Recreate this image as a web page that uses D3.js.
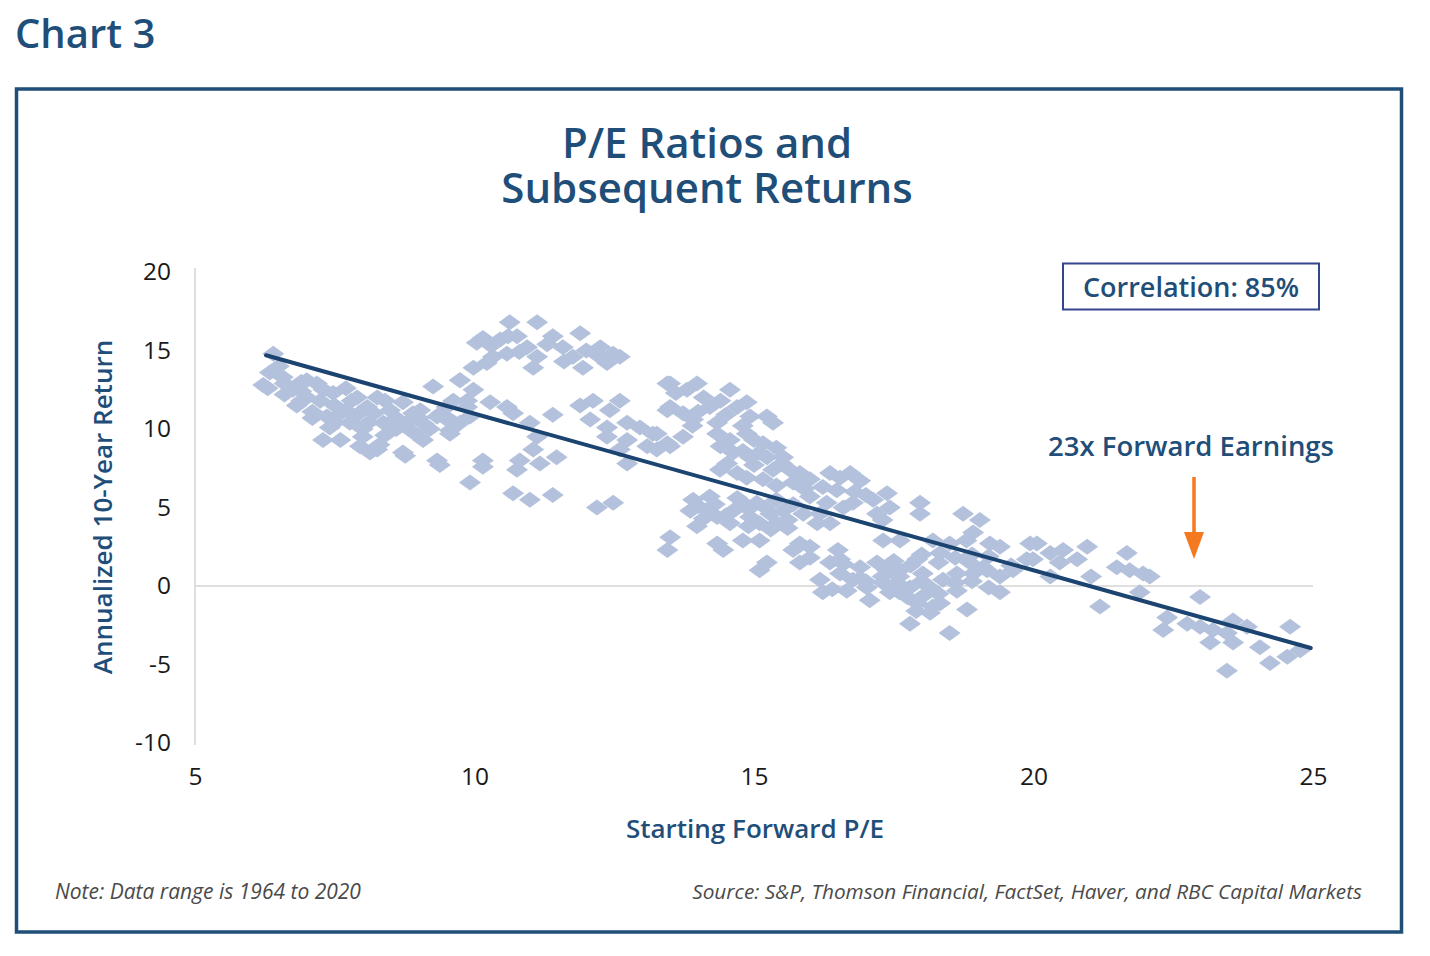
<!DOCTYPE html>
<html><head><meta charset="utf-8">
<script src="https://cdn.jsdelivr.net/npm/d3@7/dist/d3.min.js"></script>
<style>
html,body{margin:0;padding:0;background:#fff;}
svg{display:block;font-family:"Open Sans",sans-serif;}
</style></head>
<body>
<svg id="chart" width="1430" height="956"></svg>
<script>
// ---- data ----
const startingPE = [
6.40,6.34,6.22,6.57,6.75,6.82,7.18,7.24,7.47,7.36,7.60,7.41,7.29,7.60,7.95,8.26,7.77,8.08,8.26,8.49,8.37,8.72,8.79,9.03,9.08,8.72,9.26,9.33,9.56,9.74,9.87,9.92,9.33,
6.50,6.90,7.00,6.60,7.80,7.90,8.00,8.60,9.10,9.50,7.10,7.70,8.00,6.90,8.13,8.76,9.38,
6.30,6.60,6.90,7.00,7.30,7.50,7.70,7.90,8.20,8.40,8.60,8.90,8.90,9.20,9.40,9.60,8.40,7.50,7.10,8.10,9.00,8.30,
10.63,11.12,10.15,10.04,10.46,10.76,10.58,10.33,10.94,11.12,11.05,11.40,11.89,11.58,11.76,11.94,12.25,12.48,12.37,9.98,10.22,
10.30,10.80,11.30,11.60,12.00,12.20,10.60,12.60,
9.74,9.98,9.62,9.87,10.28,10.58,10.69,9.51,9.74,9.56,10.99,11.40,11.12,11.05,10.81,10.76,10.15,10.15,9.92,11.47,11.17,
11.89,12.12,12.60,12.42,12.07,12.37,12.73,12.96,13.19,12.37,12.73,13.09,13.45,13.45,13.45,12.73,12.60,
10.69,10.99,11.40,12.19,12.48,
13.50,13.98,13.80,14.57,13.50,13.73,14.21,13.91,14.70,14.87,14.93,15.23,15.34,14.34,14.34,13.26,13.73,13.50,13.26,14.57,14.87,15.16,14.63,14.52,14.93,15.23,15.52,15.64,15.34,15.16,14.87,14.39,15.82,16.00,16.36,16.54,16.23,16.48,16.30,16.00,
13.60,14.10,14.40,14.00,14.50,13.90,14.80,15.00,14.40,14.80,15.10,15.40,15.50,15.00,14.70,15.70,15.40,15.90,
13.91,13.86,14.21,14.16,14.34,14.63,14.80,15.05,14.93,15.29,15.52,15.41,15.10,14.57,13.98,15.88,16.13,
14.00,14.30,14.50,14.70,14.90,15.20,15.40,15.60,15.70,14.10,14.90,15.30,15.60,
13.50,13.45,14.34,14.45,14.80,15.10,15.23,15.10,15.70,16.00,15.82,16.36,16.54,
16.72,16.18,16.36,16.77,17.13,17.38,17.43,17.20,17.97,17.97,18.74,19.04,18.92,19.22,19.40,19.94,
16.80,16.60,17.00,17.30,16.90,
17.31,17.61,18.20,18.50,18.80,17.92,18.33,15.82,16.54,16.90,16.77,16.18,16.23,16.66,17.02,17.07,
17.38,17.61,17.31,17.56,17.79,17.43,17.74,18.02,18.15,18.38,18.63,18.63,18.92,19.10,19.40,19.40,
16.00,16.50,16.60,17.20,17.50,17.80,18.00,18.30,18.60,18.90,19.20,17.30,17.60,18.00,18.30,18.60,18.90,17.60,18.00,17.90,18.20,16.90,16.40,17.00,19.20,19.60,
17.92,18.15,17.79,18.33,18.81,18.50,19.88,19.63,
18.86,19.17,20.06,19.99,20.30,20.53,20.78,20.47,20.96,20.30,21.03,21.19,21.67,21.49,21.72,21.96,22.08,21.90,
22.98,22.39,22.32,22.75,22.98,23.21,23.57,23.82,23.16,23.57,23.46,24.05,24.59,24.23,24.54,24.77,23.46
];
const annualReturn = [
14.8,13.6,12.8,13.3,12.5,11.5,12.9,11.8,12.3,10.8,11.0,10.1,9.3,9.3,8.9,8.7,10.4,11.4,12.0,11.2,10.4,11.7,10.4,11.2,9.3,8.5,12.7,10.8,9.9,13.1,11.8,10.8,8.0,
14.0,13.0,12.0,12.2,11.8,10.9,10.0,10.0,10.3,11.4,11.1,12.6,9.5,12.4,8.5,8.3,7.7,
12.6,12.9,11.8,13.1,12.5,11.5,11.2,12.0,11.0,11.8,10.7,11.0,9.8,10.0,11.0,10.5,9.6,10.4,10.7,10.4,10.7,9.0,
16.8,16.8,15.8,15.5,15.7,15.9,14.8,14.6,15.2,14.6,13.9,15.9,16.1,15.2,14.6,13.9,15.2,14.8,14.2,13.9,14.2,
15.3,14.9,15.4,14.3,15.0,14.7,15.9,14.6,
13.1,12.5,11.8,11.4,11.7,11.4,11.0,10.6,10.4,9.7,10.4,10.9,9.5,8.7,8.0,7.4,8.0,7.6,6.6,8.2,7.8,
11.5,11.8,11.8,11.2,10.6,10.1,10.4,10.1,9.7,9.5,9.3,8.9,9.1,11.2,12.9,7.8,8.7,
5.9,5.5,5.8,5.0,5.3,
12.9,12.9,12.5,12.5,11.4,11.0,11.4,10.6,11.4,11.7,10.8,10.8,10.4,10.4,9.7,9.7,9.5,8.9,8.7,9.3,9.7,9.1,8.5,7.8,8.2,8.2,8.2,7.4,7.4,6.8,6.9,7.4,7.2,6.8,7.2,6.9,6.3,6.1,5.3,5.7,
12.3,12.0,11.8,11.1,10.9,10.2,10.2,9.3,8.9,8.6,8.5,8.8,7.8,7.7,7.2,6.6,6.4,6.2,
5.5,4.8,5.7,4.8,4.4,4.8,5.3,5.3,4.4,4.6,4.8,4.0,4.0,4.0,3.8,4.6,4.0,
5.1,5.2,4.5,5.6,4.9,5.0,5.5,4.2,5.2,4.3,3.8,3.6,3.7,
3.1,2.3,2.7,2.3,2.9,2.9,1.5,1.0,2.3,1.8,1.5,1.5,0.8,
7.2,4.6,4.0,5.3,5.5,5.9,5.0,4.6,5.3,4.6,4.6,4.2,3.4,2.7,2.5,2.7,
6.0,5.0,5.8,4.2,6.7,
2.9,2.9,2.9,2.7,2.9,1.7,2.1,2.7,1.7,1.2,0.4,0.4,-0.4,-0.3,-0.1,-0.9,
1.0,1.0,0.2,0.2,-0.1,-0.4,-0.7,0.8,-0.1,0.4,0.8,-0.3,0.8,1.2,0.6,-0.4,
2.5,2.3,1.4,1.5,1.6,1.3,2.0,1.5,1.8,2.0,1.9,0.6,0.6,0.3,-0.5,0.2,0.3,-0.4,-0.7,-1.6,-1.3,0.5,-0.2,0.3,-0.1,1.3,
-1.1,-1.7,-2.4,-1.1,-1.5,-3.0,1.7,1.0,
1.5,1.0,2.7,1.7,2.1,2.3,1.7,1.5,2.5,0.6,0.6,-1.3,2.1,1.2,1.0,0.8,0.6,-0.4,
-0.7,-2.0,-2.8,-2.4,-2.6,-2.8,-2.2,-2.6,-3.6,-3.6,-3.0,-3.9,-2.6,-4.9,-4.5,-4.1,-5.4
];
const xTicks = [5, 10, 15, 20, 25];
const yTicks = [-10, -5, 0, 5, 10, 15, 20];
const trendPE = [6.27, 24.96];
const trendReturn = [14.7, -3.95];
const points = startingPE.map((pe, i) => ({pe, ret: annualReturn[i]}));

// ---- drawing ----
const svg = d3.select("#chart");
const navy = "#1f4e79";
const x = d3.scaleLinear().domain([5, 25]).range([195, 1313]);
const y = d3.scaleLinear().domain([-10, 20]).range([743, 272]);

svg.append("text").attr("x", 15).attr("y", 48)
  .attr("font-size", 40).attr("font-weight", 600).attr("fill", navy).text("Chart 3");

svg.append("rect").attr("x", 16.5).attr("y", 89).attr("width", 1385).attr("height", 843)
  .attr("fill", "none").attr("stroke", navy).attr("stroke-width", 3.5);

const title = svg.append("text").attr("text-anchor", "middle")
  .attr("font-size", 42).attr("font-weight", 600).attr("fill", navy);
title.append("tspan").attr("x", 707).attr("y", 158).text("P/E Ratios and");
title.append("tspan").attr("x", 707).attr("y", 203).text("Subsequent Returns");

// y axis
const yAxis = svg.append("g").attr("transform", "translate(195,0)")
  .call(d3.axisLeft(y).tickValues(yTicks).tickSize(0).tickPadding(24).tickFormat(d => String(d)));
yAxis.select(".domain").attr("stroke", "#d4d4d4").attr("stroke-width", 1.5)
  .attr("d", `M0,${y(20)-4}V${y(-10)+2}`);
yAxis.selectAll("text").attr("font-size", 24.5).attr("fill", "#1a1a1a")
  .attr("font-family", "'Open Sans',sans-serif");

// x axis (labels only)
const xAxis = svg.append("g").attr("transform", `translate(0,${y(-10)})`)
  .call(d3.axisBottom(x).tickValues(xTicks).tickSize(0).tickPadding(25).tickFormat(d => String(d)));
xAxis.select(".domain").remove();
xAxis.selectAll("text").attr("font-size", 24.5).attr("fill", "#1a1a1a")
  .attr("font-family", "'Open Sans',sans-serif");

// zero line
svg.append("line").attr("x1", x(5)).attr("x2", x(25)).attr("y1", y(0)).attr("y2", y(0))
  .attr("stroke", "#d4d4d4").attr("stroke-width", 1.5);

// points
svg.append("g").selectAll("path").data(points).join("path")
  .attr("d", "M0,-8L11,0L0,8L-11,0Z")
  .attr("transform", d => `translate(${x(d.pe)},${y(d.ret)})`)
  .attr("fill", "#b3c1dc");

// trend line
svg.append("line")
  .attr("x1", x(trendPE[0])).attr("y1", y(trendReturn[0]))
  .attr("x2", x(trendPE[1])).attr("y2", y(trendReturn[1]))
  .attr("stroke", "#1b4470").attr("stroke-width", 4).attr("stroke-linecap", "round");

// axis titles
svg.append("text").attr("x", 755).attr("y", 838).attr("text-anchor", "middle")
  .attr("font-size", 26).attr("font-weight", 600).attr("fill", navy).text("Starting Forward P/E");
svg.append("text").attr("transform", "translate(112,507) rotate(-90)").attr("text-anchor", "middle")
  .attr("font-size", 26).attr("font-weight", 600).attr("fill", navy).text("Annualized 10-Year Return");

// correlation box
svg.append("rect").attr("x", 1063).attr("y", 263.5).attr("width", 256).attr("height", 46)
  .attr("fill", "none").attr("stroke", "#34458f").attr("stroke-width", 2);
svg.append("text").attr("x", 1191).attr("y", 297).attr("text-anchor", "middle")
  .attr("font-size", 27).attr("font-weight", 600).attr("fill", navy).text("Correlation: 85%");

// annotation
svg.append("text").attr("x", 1191).attr("y", 456).attr("text-anchor", "middle")
  .attr("font-size", 27.5).attr("font-weight", 600).attr("fill", navy).text("23x Forward Earnings");
const orange = "#f47920";
svg.append("line").attr("x1", 1194).attr("x2", 1194).attr("y1", 477).attr("y2", 536)
  .attr("stroke", orange).attr("stroke-width", 3.5);
svg.append("path").attr("d", "M1184,532L1204,532L1194,559Z").attr("fill", orange);

// notes
svg.append("text").attr("x", 55).attr("y", 899).attr("font-size", 21).attr("font-style", "italic")
  .attr("fill", "#4a4a4a").text("Note: Data range is 1964 to 2020");
svg.append("text").attr("x", 1362).attr("y", 899).attr("text-anchor", "end").attr("font-size", 20.75)
  .attr("font-style", "italic").attr("fill", "#4a4a4a")
  .text("Source: S&P, Thomson Financial, FactSet, Haver, and RBC Capital Markets");
</script>
</body></html>
